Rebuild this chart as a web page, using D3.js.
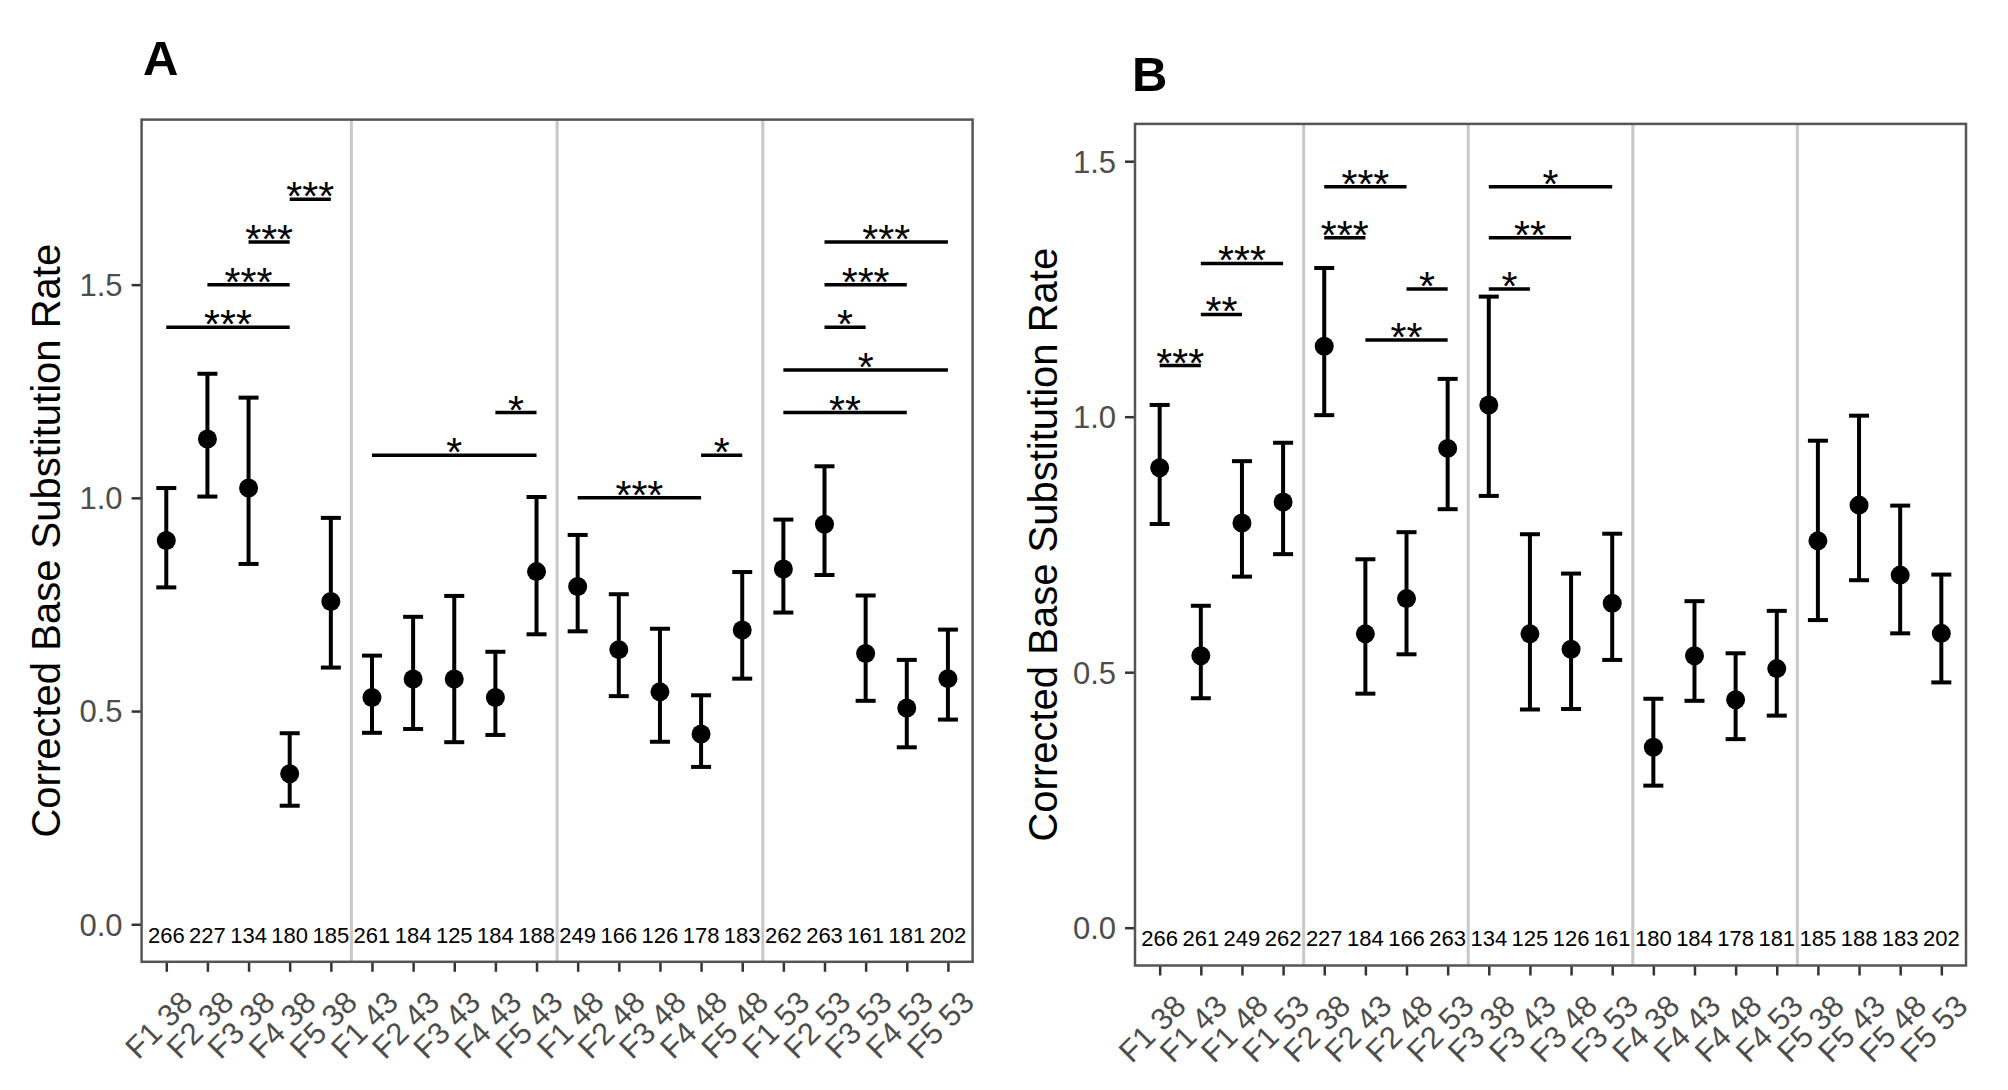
<!DOCTYPE html>
<html><head><meta charset="utf-8">
<script src="https://cdn.jsdelivr.net/npm/d3@7"></script>
<style>body{margin:0;background:#fff}</style>
</head><body>
<svg id="c" width="2008" height="1090" xmlns="http://www.w3.org/2000/svg"></svg>
<script>
// ---------------- DATA ----------------
const lines = ["F1", "F2", "F3", "F4", "F5"];
const temps = ["38", "43", "48", "53"];
// rows = temperature (38, 43, 48, 53), columns = line (F1..F5)
const means = [
  [0.900, 1.138, 1.023, 0.353, 0.757],
  [0.532, 0.575, 0.575, 0.532, 0.827],
  [0.792, 0.644, 0.545, 0.446, 0.690],
  [0.833, 0.938, 0.635, 0.507, 0.576]
];
const upper = [
  [1.023, 1.291, 1.235, 0.448, 0.953],
  [0.630, 0.721, 0.770, 0.639, 1.002],
  [0.913, 0.774, 0.693, 0.537, 0.826],
  [0.949, 1.074, 0.771, 0.620, 0.691]
];
const lower = [
  [0.790, 1.003, 0.845, 0.278, 0.602],
  [0.449, 0.458, 0.427, 0.444, 0.680],
  [0.687, 0.535, 0.428, 0.369, 0.576],
  [0.731, 0.819, 0.524, 0.415, 0.480]
];
const counts = [
  [266, 227, 134, 180, 185],
  [261, 184, 125, 184, 188],
  [249, 166, 126, 178, 183],
  [262, 263, 161, 181, 202]
];
// significance brackets: [from, to, height, label]
const sigA = [
  ["F1 38", "F4 38", 1.4, "***"],
  ["F2 38", "F4 38", 1.5, "***"],
  ["F3 38", "F4 38", 1.6, "***"],
  ["F4 38", "F5 38", 1.7, "***"],
  ["F1 43", "F5 43", 1.1, "*"],
  ["F4 43", "F5 43", 1.2, "*"],
  ["F1 48", "F4 48", 1.0, "***"],
  ["F4 48", "F5 48", 1.1, "*"],
  ["F1 53", "F4 53", 1.2, "**"],
  ["F1 53", "F5 53", 1.3, "*"],
  ["F2 53", "F3 53", 1.4, "*"],
  ["F2 53", "F4 53", 1.5, "***"],
  ["F2 53", "F5 53", 1.6, "***"]
];
const sigB = [
  ["F1 38", "F1 43", 1.1, "***"],
  ["F1 43", "F1 48", 1.2, "**"],
  ["F1 43", "F1 53", 1.3, "***"],
  ["F2 38", "F2 43", 1.35, "***"],
  ["F2 38", "F2 48", 1.45, "***"],
  ["F2 43", "F2 53", 1.15, "**"],
  ["F2 48", "F2 53", 1.25, "*"],
  ["F3 38", "F3 43", 1.25, "*"],
  ["F3 38", "F3 48", 1.35, "**"],
  ["F3 38", "F3 53", 1.45, "*"]
];
const yTicks = [0, 0.5, 1.0, 1.5];
const yTitle = "Corrected Base Substitution Rate";

// ---------------- BUILD ----------------
const records = new Map();
temps.forEach((t, ti) => lines.forEach((l, li) => {
  records.set(l + " " + t, {
    key: l + " " + t, mean: means[ti][li], hi: upper[ti][li],
    lo: lower[ti][li], n: counts[ti][li]
  });
}));
const catsA = temps.flatMap(t => lines.map(l => l + " " + t));
const catsB = lines.flatMap(l => temps.map(t => l + " " + t));

const FONT = "'Liberation Sans', Arial, Helvetica, sans-serif";
const svg = d3.select("#c").style("font-family", FONT);

function panel(cfg) {
  const x = d3.scalePoint().domain(cfg.cats).range([cfg.x0, cfg.x1]).padding(0.6);
  const y = d3.scaleLinear().domain(cfg.domain).range([cfg.y1, cfg.y0]);
  const g = svg.append("g");

  // group separators
  const step = x.step();
  const seps = cfg.cats.filter((c, i) => i > 0 && i % cfg.groupSize === 0);
  g.selectAll(".sep").data(seps).join("line")
    .attr("x1", d => x(d) - step / 2).attr("x2", d => x(d) - step / 2)
    .attr("y1", cfg.y0).attr("y2", cfg.y1)
    .attr("stroke", "#c8c8c8").attr("stroke-width", 3);

  // y axis
  const ya = g.append("g").attr("transform", `translate(${cfg.x0},0)`)
    .call(d3.axisLeft(y).tickValues(yTicks).tickFormat(d3.format(".1f")).tickSize(10).tickPadding(9));
  ya.select(".domain").remove();
  ya.selectAll("line").attr("stroke", "#333").attr("stroke-width", 2.5);
  ya.selectAll("text").attr("fill", "#4d4d4d").style("font-size", "31px")
    .style("font-family", FONT).attr("dy", "0.35em");

  // x axis
  const xa = g.append("g").attr("transform", `translate(0,${cfg.y1})`)
    .call(d3.axisBottom(x).tickSize(10));
  xa.select(".domain").remove();
  xa.selectAll("line").attr("stroke", "#333").attr("stroke-width", 2.5);
  xa.selectAll("text").attr("fill", "#4d4d4d").style("font-size", "31px")
    .style("font-family", FONT)
    .attr("x", 0).attr("y", 0).attr("dy", "0.71em")
    .attr("text-anchor", "end")
    .attr("transform", "translate(12,27) rotate(-45)");

  // panel border
  g.append("rect").attr("x", cfg.x0).attr("y", cfg.y0)
    .attr("width", cfg.x1 - cfg.x0).attr("height", cfg.y1 - cfg.y0)
    .attr("fill", "none").attr("stroke", "#555").attr("stroke-width", 2.5);

  const data = cfg.cats.map(c => records.get(c));
  const capW = 10;
  // error bars
  g.selectAll(".stem").data(data).join("line")
    .attr("x1", d => x(d.key)).attr("x2", d => x(d.key))
    .attr("y1", d => y(d.hi)).attr("y2", d => y(d.lo))
    .attr("stroke", "#000").attr("stroke-width", 4);
  ["hi", "lo"].forEach(k => {
    g.selectAll(".cap" + k).data(data).join("line")
      .attr("x1", d => x(d.key) - capW).attr("x2", d => x(d.key) + capW)
      .attr("y1", d => y(d[k])).attr("y2", d => y(d[k]))
      .attr("stroke", "#000").attr("stroke-width", 4);
  });
  g.selectAll(".pt").data(data).join("circle")
    .attr("cx", d => x(d.key)).attr("cy", d => y(d.mean)).attr("r", 9.5)
    .attr("fill", "#000");

  // counts
  g.selectAll(".cnt").data(data).join("text")
    .attr("x", d => x(d.key)).attr("y", y(0) + 11)
    .attr("dominant-baseline", "central").attr("text-anchor", "middle")
    .style("font-size", "22px").attr("fill", "#000")
    .text(d => d.n);

  // significance
  g.selectAll(".sig").data(cfg.sig).join("line")
    .attr("x1", d => x(d[0])).attr("x2", d => x(d[1]))
    .attr("y1", d => y(d[2])).attr("y2", d => y(d[2]))
    .attr("stroke", "#000").attr("stroke-width", 3.5);
  g.selectAll(".sigt").data(cfg.sig).join("text")
    .attr("x", d => (x(d[0]) + x(d[1])) / 2).attr("y", d => y(d[2]) + 11)
    .attr("text-anchor", "middle").style("font-size", "41px").attr("fill", "#000")
    .text(d => d[3]);

  // y title
  const cy = (cfg.y0 + cfg.y1) / 2;
  g.append("text").attr("transform", `translate(${cfg.titleX},${cy}) rotate(-90)`)
    .attr("text-anchor", "middle").style("font-size", "40px").attr("fill", "#000")
    .text(yTitle);

  // panel tag
  g.append("text").attr("x", cfg.tagX).attr("y", cfg.tagY)
    .style("font-size", "49px").style("font-weight", "bold").attr("fill", "#000")
    .text(cfg.tag);
}

panel({cats: catsA, groupSize: 5, sig: sigA, x0: 141.6, x1: 972.6, y0: 119.6, y1: 961.8,
  domain: [-0.088, 1.887], titleX: 60, tag: "A", tagX: 143, tagY: 75});
panel({cats: catsB, groupSize: 4, sig: sigB, x0: 1135, x1: 1966, y0: 123.9, y1: 965.5,
  domain: [-0.074, 1.573], titleX: 1057, tag: "B", tagX: 1132, tagY: 91});
</script>
</body></html>
